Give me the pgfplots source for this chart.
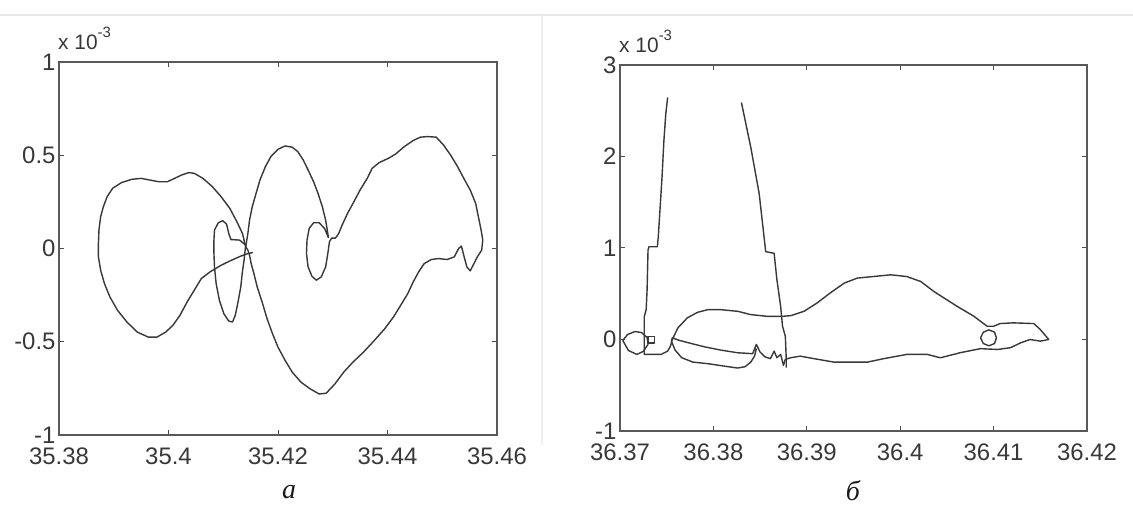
\documentclass[border=0pt]{standalone}
\usepackage{fontspec}
\setmainfont{Liberation Sans}
\newfontfamily\capfont{Liberation Serif}
\usepackage{pgfplots}
\pgfplotsset{compat=1.18}
\pgfplotsset{
  mstyle/.style={
    scale only axis,
    axis background/.style={fill=white},
    axis line style={black!65, line width=1.6bp},
    tick style={black!70, line width=1bp},
    tick align=inside,
    major tick length=5bp,
    xtick pos=both, ytick pos=both,
    scaled x ticks=false, scaled y ticks=false,
    tick label style={font=\fontsize{24}{24}\selectfont, text=black!78},
    xticklabel style={yshift=-9bp},
  },
  curve/.style={black!78, line width=1.4bp, mark=none, line join=round},
}
\begin{document}
\begin{tikzpicture}
\path[use as bounding box] (0bp,0bp) rectangle (1133bp,507bp);
\draw[black!9, line width=1.2bp] (0bp,492bp) -- (1133bp,492bp);
\draw[black!7, line width=1.2bp] (542bp,492bp) -- (542bp,62bp);

% ---------------- left panel (a) ----------------
\begin{axis}[mstyle,
  at={(59bp,72bp)}, anchor=south west, width=438bp, height=373bp,
  xmin=35.38, xmax=35.46, ymin=-1, ymax=1,
  xtick={35.38,35.4,35.42,35.44,35.46},
  xticklabels={35.38,35.4,35.42,35.44,35.46},
  ytick={-1,-0.5,0,0.5,1},
  yticklabels={-1,-0.5,0,0.5,1},
]
\addplot[curve] table {
35.4141 0.009
35.4135 0.081
35.4125 0.143
35.4112 0.215
35.4096 0.278
35.4080 0.332
35.4063 0.376
35.4047 0.403
35.4037 0.407
35.4024 0.394
35.4011 0.376
35.3998 0.358
35.3982 0.358
35.3966 0.367
35.3950 0.376
35.3933 0.371
35.3914 0.353
35.3898 0.323
35.3888 0.278
35.3881 0.224
35.3876 0.170
35.3873 0.099
35.3872 0.027
35.3872 -0.045
35.3876 -0.116
35.3883 -0.188
35.3893 -0.260
35.3907 -0.332
35.3924 -0.394
35.3943 -0.448
35.3963 -0.475
35.3979 -0.475
35.3995 -0.448
35.4008 -0.412
35.4021 -0.358
35.4034 -0.287
35.4047 -0.224
35.4060 -0.161
35.4076 -0.125
35.4096 -0.090
35.4115 -0.063
35.4132 -0.041
35.4145 -0.027
35.4154 -0.022
};
\addplot[curve] table {
35.4141 0.009
35.4145 0.081
35.4148 0.152
35.4153 0.224
35.4160 0.296
35.4167 0.367
35.4177 0.439
35.4187 0.493
35.4200 0.532
35.4213 0.550
35.4226 0.543
35.4236 0.520
35.4246 0.475
35.4255 0.421
35.4265 0.358
35.4273 0.296
35.4281 0.224
35.4287 0.152
35.4290 0.099
35.4292 0.059
35.4285 0.108
35.4275 0.138
35.4265 0.138
35.4257 0.108
35.4253 0.045
35.4252 -0.027
35.4255 -0.099
35.4262 -0.149
35.4270 -0.170
35.4279 -0.152
35.4287 -0.099
35.4291 -0.027
35.4294 0.036
35.4298 0.056
35.4305 0.056
35.4311 0.081
35.4317 0.125
35.4327 0.188
35.4337 0.242
35.4350 0.314
35.4363 0.376
35.4372 0.430
35.4385 0.461
35.4402 0.484
35.4415 0.507
35.4431 0.547
35.4447 0.579
35.4460 0.597
35.4473 0.600
35.4489 0.597
35.4502 0.556
35.4515 0.502
35.4528 0.439
35.4541 0.367
35.4551 0.314
35.4561 0.242
35.4566 0.170
35.4571 0.099
35.4574 0.045
35.4572 -0.009
35.4564 -0.045
35.4558 -0.081
35.4551 -0.120
35.4545 -0.099
35.4540 -0.045
35.4535 0.013
35.4530 0.000
35.4522 -0.045
35.4509 -0.059
35.4493 -0.054
35.4480 -0.059
35.4467 -0.081
35.4457 -0.125
35.4447 -0.179
35.4437 -0.242
35.4424 -0.305
35.4411 -0.367
35.4395 -0.430
35.4376 -0.493
35.4356 -0.556
35.4337 -0.609
35.4320 -0.663
35.4304 -0.726
35.4288 -0.776
35.4275 -0.780
35.4259 -0.753
35.4242 -0.717
35.4226 -0.663
35.4213 -0.600
35.4200 -0.529
35.4190 -0.457
35.4180 -0.376
35.4171 -0.287
35.4162 -0.206
35.4156 -0.134
35.4151 -0.081
35.4148 -0.036
35.4145 -0.009
35.4141 0.009
};
\addplot[curve] table {
35.4141 0.018
35.4130 0.045
35.4114 0.048
35.4110 0.081
35.4106 0.131
35.4099 0.149
35.4091 0.138
35.4084 0.099
35.4083 0.045
35.4083 -0.027
35.4084 -0.099
35.4087 -0.188
35.4093 -0.278
35.4101 -0.349
35.4110 -0.389
35.4117 -0.394
35.4122 -0.358
35.4127 -0.287
35.4132 -0.206
35.4135 -0.125
35.4138 -0.063
35.4140 -0.009
35.4141 0.018
};
\end{axis}
\node[anchor=base west, inner sep=0, font=\fontsize{21}{21}\selectfont, text=black!78] at (58bp,457bp) {x 10\raisebox{12bp}{\fontsize{15}{15}\selectfont -3}};

% ---------------- right panel (b) ----------------
\begin{axis}[mstyle,
  at={(620bp,76bp)}, anchor=south west, width=467bp, height=366bp,
  x filter/.expression={x-36.37},
  xmin=0, xmax=0.05, ymin=-1, ymax=3,
  xtick={0,0.01,0.02,0.03,0.04,0.05},
  xticklabels={36.37,36.38,36.39,36.4,36.41,36.42},
  ytick={-1,0,1,2,3},
  yticklabels={-1,0,1,2,3},
]
\addplot[curve] table {
36.3751 2.645
36.3749 2.464
36.3747 2.174
36.3745 1.775
36.3743 1.449
36.3741 1.123
36.3740 1.014
36.3731 1.014
36.3730 0.978
36.3729 0.543
36.3728 0.326
36.3726 0.250
36.3726 -0.163
36.3744 -0.163
36.3751 -0.127
36.3754 -0.073
36.3756 0.000
36.3762 0.127
36.3772 0.236
36.3783 0.297
36.3794 0.326
36.3808 0.326
36.3826 0.308
36.3840 0.272
36.3858 0.253
36.3874 0.253
36.3883 0.261
36.3897 0.308
36.3911 0.399
36.3925 0.508
36.3940 0.616
36.3954 0.671
36.3965 0.682
36.3990 0.707
36.4007 0.688
36.4022 0.634
36.4036 0.525
36.4047 0.453
36.4061 0.362
36.4079 0.253
36.4093 0.145
36.4100 0.145
36.4107 0.174
36.4121 0.182
36.4143 0.174
36.4150 0.109
36.4159 0.000
36.4150 -0.018
36.4139 0.000
36.4129 -0.036
36.4118 -0.090
36.4104 -0.109
36.4086 -0.100
36.4064 -0.145
36.4043 -0.200
36.4029 -0.163
36.4007 -0.163
36.3982 -0.210
36.3965 -0.247
36.3929 -0.247
36.3908 -0.210
36.3893 -0.182
36.3883 -0.199
36.3877 -0.217
36.3875 -0.283
36.3872 -0.163
36.3868 -0.199
36.3865 -0.127
36.3861 -0.210
36.3855 -0.188
36.3850 -0.138
36.3846 -0.054
36.3842 -0.155
36.3826 -0.145
36.3808 -0.116
36.3790 -0.079
36.3776 -0.043
36.3763 -0.008
36.3756 0.018
36.3755 -0.018
36.3759 -0.116
36.3766 -0.199
36.3778 -0.247
36.3794 -0.264
36.3811 -0.290
36.3826 -0.312
36.3834 -0.297
36.3840 -0.247
36.3844 -0.182
36.3846 -0.100
};
\addplot[curve] table {
36.3830 2.590
36.3840 2.101
36.3849 1.595
36.3856 0.960
36.3865 0.942
36.3868 0.652
36.3872 0.362
36.3874 0.145
36.3877 0.036
36.3878 -0.217
36.3878 -0.308
};
\addplot[curve] table {
36.3703 -0.011
36.3708 0.054
36.3716 0.087
36.3723 0.076
36.3729 0.022
36.3730 -0.054
36.3725 -0.130
36.3718 -0.163
36.3709 -0.120
36.3703 -0.011
};
\addplot[curve] table {
36.3730 -0.040
36.3737 -0.040
36.3737 0.030
36.3730 0.030
36.3730 -0.040
};
\addplot[curve] table {
36.4103 0.018
36.4101 0.080
36.4095 0.105
36.4089 0.080
36.4086 0.018
36.4089 -0.044
36.4095 -0.069
36.4101 -0.044
36.4103 0.018
};
\end{axis}
\node[anchor=base west, inner sep=0, font=\fontsize{21}{21}\selectfont, text=black!78] at (619bp,454bp) {x 10\raisebox{12bp}{\fontsize{15}{15}\selectfont -3}};

\node[font=\capfont\itshape\fontsize{28}{28}\selectfont, text=black!90] at (289bp,15bp) {а};
\node[font=\capfont\itshape\fontsize{28}{28}\selectfont, text=black!90] at (853bp,16bp) {б};
\end{tikzpicture}
\end{document}
